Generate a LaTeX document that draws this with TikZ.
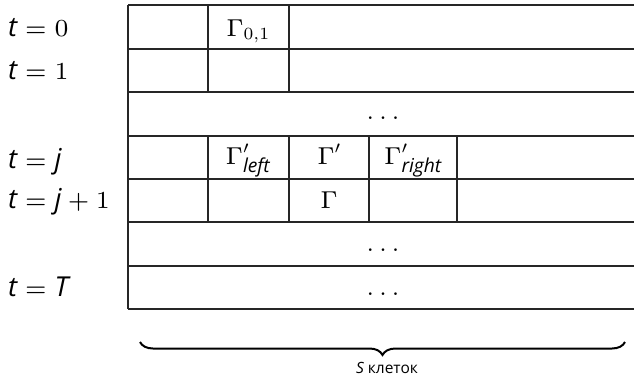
\documentclass[tikz,border=0pt]{standalone}
\usepackage{amsmath}
\usepackage{fontspec}
\newfontfamily\osans[Scale=1.12]{Open Sans}
\newfontfamily\labsans{Open Sans}
\DeclareFontShape{OT1}{cmr}{m}{n}{<-> cmr7}{}
\DeclareFontShape{OML}{cmm}{m}{it}{<-> cmmi7}{}
\DeclareFontShape{OMS}{cmsy}{m}{n}{<-> cmsy7}{}
\usetikzlibrary{decorations.pathreplacing}
\newcommand{\iv}[1]{\text{\osans\itshape #1}}
\begin{document}
\begin{tikzpicture}[x=1pt,y=-1pt,
  gridline/.style={line width=1.3pt,draw=black!85},
  lbl/.style={anchor=base west,inner sep=0pt,font=\fontsize{24.5}{28}\selectfont},
  cell/.style={anchor=base,inner sep=0pt,font=\fontsize{24.5}{28}\selectfont},
  dotsnode/.style={inner sep=0pt,font=\fontsize{23.5}{28}\selectfont},
  bracestyle/.style={line width=2pt,decorate,decoration={brace,amplitude=13pt}},
  small/.style={inner sep=0pt,font=\fontsize{15.5}{18}\selectfont\labsans}]
\useasboundingbox (0,0) rectangle (634,378);
% horizontal lines
\foreach \yy in {5,49,92,136,179,222,266,309}
  \draw[gridline] (128,\yy) -- (634,\yy);
\draw[gridline] (128,5) -- (128,309);
% vertical lines rows 0,1
\foreach \xx in {208,289}
  \draw[gridline] (\xx,5) -- (\xx,92);
% rows j, j+1
\foreach \xx in {208,289,369,457}
  \draw[gridline] (\xx,136) -- (\xx,222);
% row labels
\node[lbl] (l0) at (8,36) {$\iv{t}=0$};
\node[lbl] (l1) at (8,79) {$\iv{t}=1$};
\node[lbl] (lj) at (8,168) {$\iv{t}=\iv{j}$};
\node[lbl] (lj1) at (8,208) {$\iv{t}=\iv{j}+1$};
\node[lbl] (lT) at (8,296) {$\iv{t}=\iv{T}$};
% cell contents
\node[cell] (g01) at (248,36) {$\Gamma_{0,1}$};
\node[cell] (gl) at (248,164) {$\Gamma'_{\iv{left}}$};
\node[cell] (gp) at (329,164) {$\Gamma'$};
\node[cell] (gr) at (413,164) {$\Gamma'_{\iv{right}}$};
\node[cell] (g) at (329,208) {$\Gamma$};
\node[dotsnode] (d1) at (383,118) {$\ldots$};
\node[dotsnode] (d2) at (383,250) {$\ldots$};
\node[dotsnode] (d3) at (383,294) {$\ldots$};
% brace
\coordinate (bl) at (140,342);
\coordinate (br) at (625,342);
\draw[bracestyle] (br) -- (bl);
\node[small,anchor=base] (sl) at (387,373) {\itshape S\upshape\ клеток};
\end{tikzpicture}
\end{document}
